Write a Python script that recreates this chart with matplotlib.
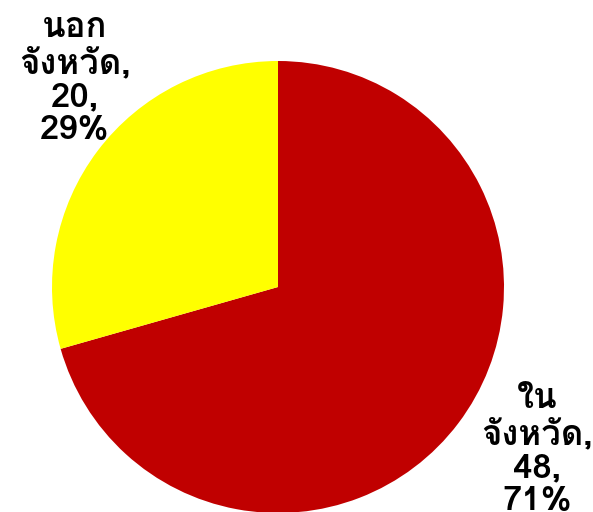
import matplotlib
matplotlib.use("Agg")
import matplotlib.pyplot as plt
from matplotlib import font_manager
from matplotlib.ft2font import FT2Font

categories = ["ใน\nจังหวัด", "นอก\nจังหวัด"]
values = [48, 20]
colors = ["#C00000", "#FFFF00"]

# find an installed font with Thai glyphs
thai_family = None
for f in font_manager.fontManager.ttflist:
    try:
        cm = FT2Font(f.fname).get_charmap()
        if 0x0E19 in cm and 0x0E08 in cm:
            thai_family = f.name
            break
    except Exception:
        pass
families = ([thai_family] if thai_family else []) + ["DejaVu Sans"]

fig = plt.figure(figsize=(5.93, 5.12), dpi=100)
W, H = 593, 512
cx, cy, r = 278, 287, 226
ax = fig.add_axes([(cx - r) / W, 1 - (cy + r) / H, 2 * r / W, 2 * r / H])
ax.pie(values, colors=colors, startangle=90, counterclock=False, radius=1,
       wedgeprops=dict(linewidth=0))
ax.set_xlim(-1, 1)
ax.set_ylim(-1, 1)
ax.set_aspect("equal")
ax.axis("off")

total = sum(values)
labels = [f"{c},\n{v},\n{round(v / total * 100)}%" for c, v in zip(categories, values)]
fig.text(537 / W, 1 - 450 / H, labels[0], ha="center", va="center",
         fontsize=25, fontweight="bold", family=families, linespacing=1.12)
fig.text(75 / W, 1 - 79 / H, labels[1], ha="center", va="center",
         fontsize=25, fontweight="bold", family=families, linespacing=1.12)

fig.savefig("out.png", dpi=100)
